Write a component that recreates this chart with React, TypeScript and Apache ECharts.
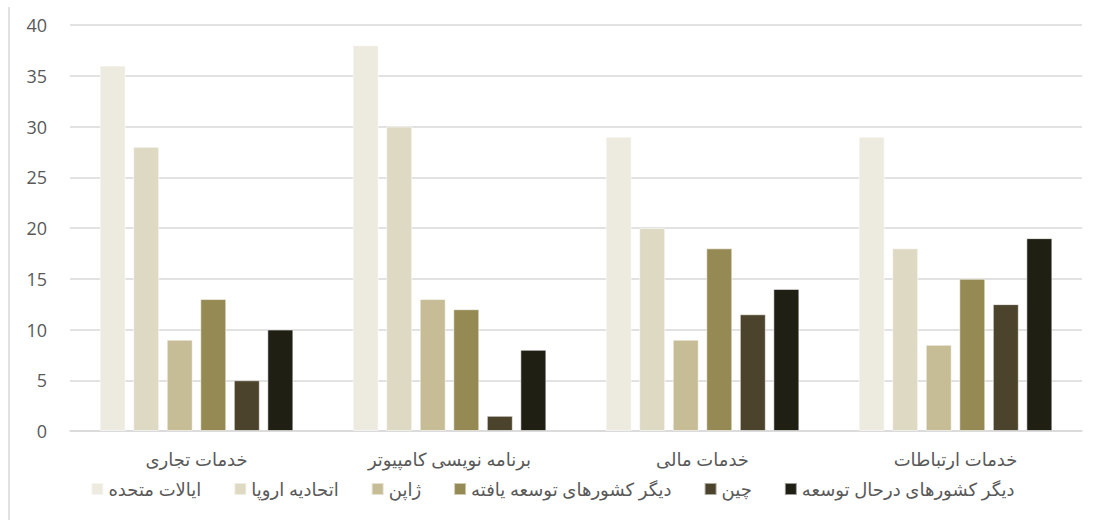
import React, { useEffect, useRef } from "react";
import * as echarts from "echarts";

const categories = ["خدمات تجاری", "برنامه نویسی کامپیوتر", "خدمات مالی", "خدمات ارتباطات"];
const seriesNames = [
  "ایالات متحده",
  "اتحادیه اروپا",
  "ژاپن",
  "دیگر کشورهای توسعه یافته",
  "چین",
  "دیگر کشورهای درحال توسعه",
];
const usValues = [36, 38, 29, 29];
const euValues = [28, 30, 20, 18];
const japanValues = [9, 13, 9, 8.5];
const developedValues = [13, 12, 18, 15];
const chinaValues = [5, 1.5, 11.5, 12.5];
const developingValues = [10, 8, 14, 19];
const seriesValues = [usValues, euValues, japanValues, developedValues, chinaValues, developingValues];
const colors = ["#EDEADF", "#DED9C3", "#C6BD97", "#968A54", "#4B432B", "#201F14"];
const yTicks = { min: 0, max: 40, interval: 5 };

const FONT = "'Open Sans', 'DejaVu Sans', sans-serif";

export default function App() {
  const ref = useRef<HTMLDivElement>(null);
  useEffect(() => {
    if (!ref.current) return;
    const chart = echarts.init(ref.current, null, { renderer: "svg" });
    chart.setOption({
      animation: false,
      backgroundColor: "#ffffff",
      textStyle: { fontFamily: FONT },
      grid: { left: 70, right: 23, top: 25, bottom: 89, containLabel: false },
      legend: {
        top: 475,
        left: "center",
        itemWidth: 12,
        itemHeight: 12,
        itemGap: 32,
        icon: "rect",
        textStyle: { fontSize: 18, color: "#595959", fontFamily: FONT },
        data: seriesNames,
      },
      xAxis: {
        type: "category",
        data: categories,
        axisLine: { lineStyle: { color: "#d9d9d9", width: 1.5 } },
        axisTick: { show: false },
        axisLabel: { fontSize: 18, color: "#595959", margin: 19, fontFamily: FONT },
      },
      yAxis: {
        type: "value",
        min: yTicks.min,
        max: yTicks.max,
        interval: yTicks.interval,
        axisLine: { show: false },
        axisTick: { show: false },
        axisLabel: { fontSize: 18, color: "#595959", margin: 23, fontFamily: FONT },
        splitLine: { lineStyle: { color: "#d9d9d9", width: 1.5 } },
      },
      graphic: [
        {
          type: "line",
          shape: { x1: 9, y1: 7, x2: 9, y2: 520 },
          style: { stroke: "#d9d9d9", lineWidth: 1.5 },
        },
      ],
      series: seriesNames.map((name, i) => ({
        name,
        type: "bar",
        data: seriesValues[i],
        barWidth: 26,
        barGap: "29%",
        itemStyle: {
          color: colors[i],
          borderColor: "rgba(255,255,255,0.55)",
          borderWidth: 1,
        },
      })),
    });
    return () => chart.dispose();
  }, []);
  return (
    <div
      ref={ref}
      style={{ position: "fixed", left: 0, top: 0, width: 1105, height: 520 }}
    />
  );
}
